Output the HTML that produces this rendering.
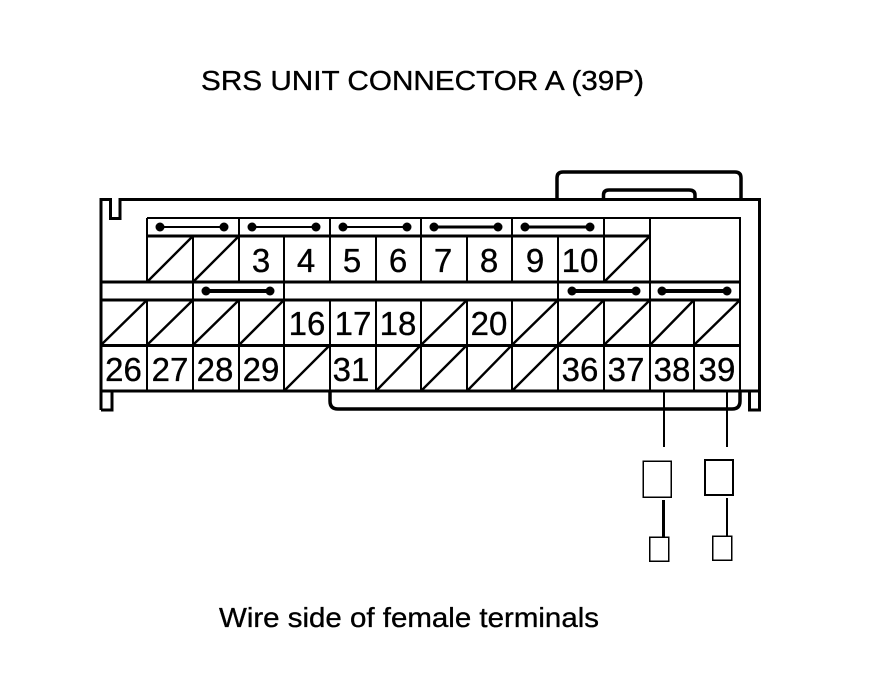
<!DOCTYPE html>
<html><head><meta charset="utf-8"><style>
html,body{margin:0;padding:0;background:#fff;width:880px;height:684px;overflow:hidden}
svg{display:block}
text{font-family:"Liberation Sans",sans-serif;fill:#000;stroke:#000;stroke-width:.35px}
.n{font-size:33px;text-anchor:middle}
</style></head><body>
<svg width="880" height="684" viewBox="0 0 880 684" xmlns="http://www.w3.org/2000/svg">
<rect width="880" height="684" fill="#fff"/>
<text x="201" y="90" font-size="28" textLength="443" lengthAdjust="spacingAndGlyphs">SRS UNIT CONNECTOR A (39P)</text>
<text x="219" y="627" font-size="28" textLength="380" lengthAdjust="spacingAndGlyphs">Wire side of female terminals</text>

<g fill="none" stroke="#000" stroke-width="3" shape-rendering="crispEdges">
<path d="M101 410V199.5H110.5V218.5H120V199.5H759.5V410H749.5V391"/>
<path d="M101 410H112V391"/>
<path d="M101 391H759"/>
</g>
<g fill="none" stroke="#000" stroke-width="3.5">
<path d="M557 199V178Q557 172 563 172H735Q741 172 741 178V199"/>
<path d="M603.5 199V195Q603.5 190 609 190H689Q695 190 695 195V199"/>
<path d="M330 391V401Q330 409 338 409H732Q740 409 740 401V391"/>
</g>
<g fill="none" stroke="#000" stroke-width="3" shape-rendering="crispEdges">
<path d="M147 236H650"/>
<path d="M101 282H740"/>
<path d="M101 300H740"/>
<path d="M101 345.5H740"/>
</g>
<g fill="none" stroke="#000" stroke-width="2" shape-rendering="crispEdges">
<path d="M147 218H740V391"/>
<path d="M147 218V282M239 218V236M330 218V236M421 218V236M512 218V236M604 218V236M650 218V282"/>
<path d="M193 236V282M239 236V282M284 236V282M330 236V282M376 236V282M421 236V282M467 236V282M512 236V282M558 236V282M604 236V282"/>
<path d="M193 282V300M284 282V300M558 282V300M650 282V300"/>
<path d="M147 300V391M193 300V391M239 300V391M284 300V391M330 300V391M376 300V391M421 300V391M467 300V391M512 300V391M558 300V391M604 300V391M650 300V391M694 300V391"/>
</g>
<g stroke="#000" stroke-width="2.4" fill="none">
<path d="M147 282L193 236M193 282L239 236M604 282L650 236"/>
<path d="M101 345L147 300M147 345L193 300M193 345L239 300M239 345L284 300M421 345L467 300M512 345L558 300M558 345L604 300M604 345L650 300M650 345L694 300M694 345L740 300"/>
<path d="M284 391L330 345M376 391L421 345M421 391L467 345M467 391L512 345M512 391L558 345"/>
</g>

<g stroke="#000" fill="#000">
<g stroke-width="2">
<path d="M160 227H224M252 227H316M343 227H407"/>
</g>
<g stroke-width="3">
<path d="M434 227H498M525 227H590"/>
</g>
<g stroke-width="4">
<path d="M206 291H270M572 291H636M662 291H727"/>
</g>
<g stroke="none">
<circle cx="160" cy="227" r="4.5"/><circle cx="224" cy="227" r="4.5"/>
<circle cx="252" cy="227" r="4.5"/><circle cx="316" cy="227" r="4.5"/>
<circle cx="343" cy="227" r="4.5"/><circle cx="407" cy="227" r="4.5"/>
<circle cx="434" cy="227" r="4.5"/><circle cx="498" cy="227" r="4.5"/>
<circle cx="525" cy="227" r="4.5"/><circle cx="590" cy="227" r="4.5"/>
<circle cx="206" cy="291" r="4.5"/><circle cx="270" cy="291" r="4.5"/>
<circle cx="572" cy="291" r="4.5"/><circle cx="636" cy="291" r="4.5"/>
<circle cx="662" cy="291" r="4.5"/><circle cx="727" cy="291" r="4.5"/>
</g>
</g>

<g>
<text class="n" x="261" y="272">3</text><text class="n" x="306" y="272">4</text><text class="n" x="352" y="272">5</text><text class="n" x="398" y="272">6</text><text class="n" x="443" y="272">7</text><text class="n" x="489" y="272">8</text><text class="n" x="535" y="272">9</text><text class="n" x="580" y="272">10</text>
<text class="n" x="307" y="335">16</text><text class="n" x="353" y="335">17</text><text class="n" x="398" y="335">18</text><text class="n" x="489" y="335">20</text>
<text class="n" x="123.5" y="381">26</text><text class="n" x="170" y="381">27</text><text class="n" x="215" y="381">28</text><text class="n" x="261" y="381">29</text><text class="n" x="351" y="381">31</text><text class="n" x="580" y="381">36</text><text class="n" x="626" y="381">37</text><text class="n" x="672" y="381">38</text><text class="n" x="717" y="381">39</text>
</g>

<g fill="none" stroke="#000" shape-rendering="crispEdges">
<path d="M664 391V447M727 391V447" stroke-width="2"/>
<rect x="643" y="461" width="28" height="36" stroke-width="1.5"/>
<rect x="705" y="460" width="28" height="35" stroke-width="2"/>
<path d="M663.5 500V537" stroke-width="3"/>
<path d="M727 498V536" stroke-width="2"/>
<rect x="649.5" y="537" width="19" height="24" stroke-width="1.5"/>
<rect x="712.5" y="536" width="19" height="24" stroke-width="1.5"/>
</g>
</svg>
</body></html>
